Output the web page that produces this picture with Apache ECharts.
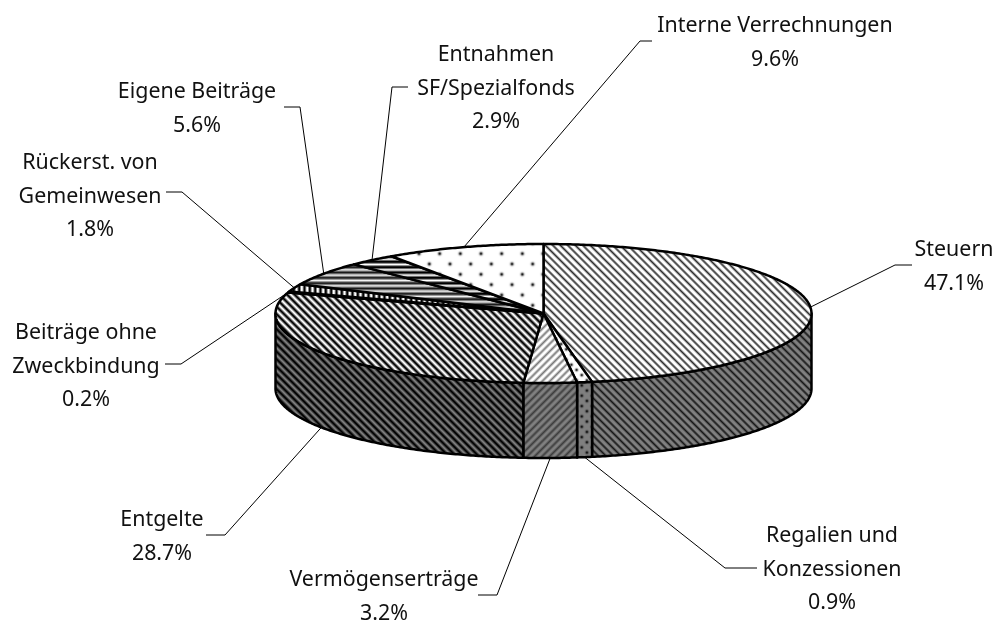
<!DOCTYPE html>
<html>
<head>
<meta charset="utf-8">
<style>html,body{margin:0;padding:0;background:#fff}#c{width:1006px;height:621px}</style>
<script src="https://cdn.jsdelivr.net/npm/echarts@6/dist/echarts.min.js"></script>
</head>
<body>
<div id="c"></div>
<script>
// Data, clockwise from 12 o'clock
const categories = ['Steuern','Regalien und\nKonzessionen','Vermögenserträge','Entgelte','Beiträge ohne\nZweckbindung','Rückerst. von\nGemeinwesen','Eigene Beiträge','Entnahmen\nSF/Spezialfonds','Interne Verrechnungen'];
const shares = [47.1,0.9,3.2,28.7,0.2,1.8,5.6,2.9,9.6];

// Pie geometry (pixels)
const geo = {cx:543.5, cy:313.5, rx:268, ry:69.5, depth:75};
// Label placement: text centre, first line centre, leader elbow and leader end
const labelLayout = [
  {x:954, y:248, elbow:[895,265], end:[912,265]},
  {x:832, y:534, elbow:[725,568], end:[757,568]},
  {x:384, y:578, elbow:[497,595], end:[478,595]},
  {x:162, y:518, elbow:[225,535], end:[206,535]},
  {x:86,  y:331, elbow:[181,364], end:[165,364]},
  {x:90,  y:161, elbow:[182,192], end:[166,192]},
  {x:197, y:90,  elbow:[300,107], end:[284,107]},
  {x:496, y:53,  elbow:[392,87],  end:[408,87]},
  {x:775, y:24,  elbow:[640,41],  end:[652,41]}
];

function tile(size, fn, darken){
  const c=document.createElement('canvas'); c.width=c.height=size;
  const g=c.getContext('2d'), im=g.createImageData(size,size);
  for(let y=0;y<size;y++)for(let x=0;x<size;x++){
    const v=Math.max(0,Math.min(1,fn(x,y)))*255*darken, i=(y*size+x)*4;
    im.data[i]=im.data[i+1]=im.data[i+2]=v; im.data[i+3]=255;
  }
  g.putImageData(im,0,0); return c;
}
function stripes(px,py,period,w,soft,lo){
  return (x,y)=>{
    let t=(x*px+y*py)%period; if(t<0)t+=period;
    const d=Math.min(t,period-t);
    const cov=Math.max(0,Math.min(1,(d-w/2)/soft+0.5));
    return lo+(1-lo)*cov;
  };
}
function dots(period,r,amp){
  return (x,y)=>{
    let m=0;
    for(let i=-1;i<=Math.round(62/period)*2+1;i++)for(let j=-1;j<=Math.round(62/period)*2+1;j++){
      if((i+j)%2) continue;
      const dx=x-i*period/2-period/4, dy=y-j*period/2-period/4;
      m=Math.max(m,Math.exp(-(dx*dx+dy*dy)/(r*r)));
    }
    return 1-amp*m;
  };
}
const P=7.5;
const patternDefs = [
  [15, stripes(1,-1,P,2.3,2.8,0.1)],
  [31, dots(31/3,1.5,0.9)],
  [15, stripes(1,1,P,2.4,3.2,0.4)],
  [15, stripes(1,-1,P,3.75,3,0)],
  [16, stripes(1,0,16/3,2.6,2,0)],
  [16, stripes(1,0,16/3,2.6,2,0)],
  [16, stripes(0,1,16/3,3,2.6,0.1)],
  [16, stripes(0,1,16/3,3,2.2,0)],
  [62, dots(62/3,1.7,0.9)]
];
const topFill = patternDefs.map(d=>({image:tile(d[0],d[1],1),repeat:'repeat'}));
const sideFill = patternDefs.map(d=>({image:tile(d[0],d[1],0.5),repeat:'repeat'}));

const total = shares.reduce((a,b)=>a+b,0);
const starts=[]; shares.reduce((acc,v,i)=>{starts[i]=acc;return acc+v;},0);
const toAngle=p=>p/total*2*Math.PI;
const pt=(a,dz)=>[geo.cx+geo.rx*Math.sin(a), geo.cy-geo.ry*Math.cos(a)+(dz||0)];
function arc(a0,a1,dz){
  const n=Math.max(2,Math.ceil(Math.abs(a1-a0)/0.01)), r=[];
  for(let i=0;i<=n;i++) r.push(pt(a0+(a1-a0)*i/n,dz));
  return r;
}
const black='#000';

function renderItem(params, api){
  const i=params.dataIndex, v=api.value(0);
  const a0=toAngle(starts[i]), a1=toAngle(starts[i]+v), mid=(a0+a1)/2;
  const kids=[];
  // side wall: only the part on the front half of the ellipse is visible
  const s0=Math.max(a0,Math.PI/2), s1=Math.min(a1,1.5*Math.PI);
  if(s1>s0){
    kids.push({type:'polygon',z2:1,shape:{points:arc(s0,s1,0).concat(arc(s1,s0,geo.depth))},
      style:{fill:sideFill[i],stroke:black,lineWidth:2.5,lineJoin:'round'}});
  }
  kids.push({type:'polygon',z2:2,shape:{points:[[geo.cx,geo.cy]].concat(arc(a0,a1,0))},
    style:{fill:topFill[i],stroke:black,lineWidth:2.5,lineJoin:'round'}});
  // leader line starts on the visible outer rim at the slice's middle angle
  const front=mid>Math.PI/2&&mid<1.5*Math.PI;
  const anchor=pt(mid,front?geo.depth:0), L=labelLayout[i];
  kids.push({type:'polyline',z2:3,shape:{points:[anchor,L.elbow,L.end]},
    style:{fill:'none',stroke:black,lineWidth:1}});
  kids.push({type:'text',z2:4,style:{
    x:L.x,y:L.y-15,text:api.value(1)+'\n'+v.toFixed(1)+'%',
    textAlign:'center',verticalAlign:'top',
    font:'21.4px "Noto Sans"',lineHeight:33.7,fill:'#111'}});
  return {type:'group',children:kids};
}

const chart=echarts.init(document.getElementById('c'),null,{renderer:'canvas'});
chart.setOption({
  animation:false,
  backgroundColor:'#fff',
  series:[{
    type:'custom',
    coordinateSystem:'none',
    renderItem:renderItem,
    silent:true,
    data:shares.map((v,i)=>[v,categories[i]])
  }]
});
</script>
</body>
</html>
